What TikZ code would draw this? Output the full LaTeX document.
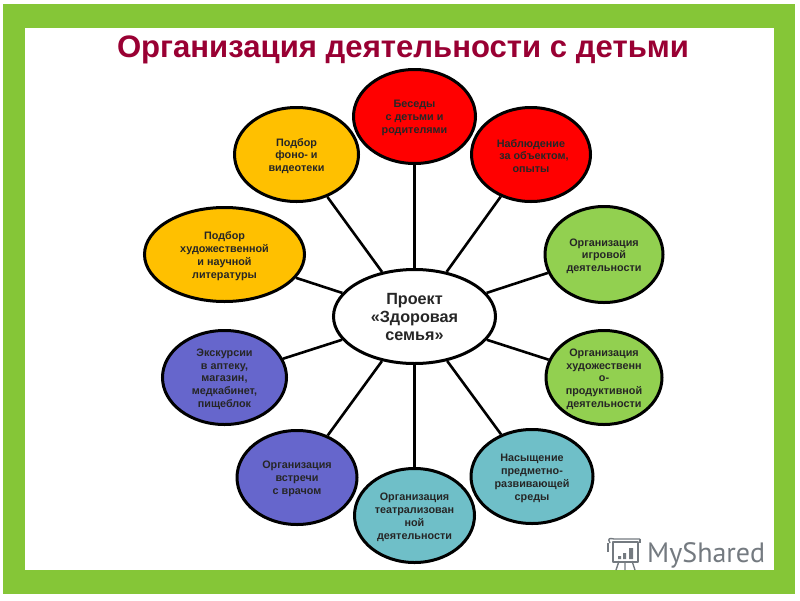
\documentclass[tikz,border=0pt]{standalone}
\usepackage{fontspec}
\setmainfont{Liberation Sans}
\newfontfamily\wmfont{PT Sans}
\usetikzlibrary{shapes.geometric}
\definecolor{frameg}{HTML}{85C637}
\definecolor{titlec}{HTML}{990033}
\definecolor{redc}{HTML}{FF0000}
\definecolor{yelc}{HTML}{FFC000}
\definecolor{grnc}{HTML}{92D050}
\definecolor{purc}{HTML}{6666CC}
\definecolor{tealc}{HTML}{6FBFC8}
\definecolor{wm}{HTML}{747A80}
\newcommand{\pushdown}{\rule{0pt}{11pt}}
\tikzset{
  bub/.style={draw=black,line width=3pt,ellipse,inner sep=0pt,align=center,
    font=\fontsize{10.8}{12.9}\selectfont\bfseries,text=black!85},
  link/.style={draw=black,line width=2.6pt},
}
\begin{document}
\begin{tikzpicture}[x=1pt,y=-1pt]
\useasboundingbox (0,0) rectangle (800,600);
\fill[white] (0,0) rectangle (800,600);
\fill[frameg] (3,4) rectangle (795,594);
\fill[white] (25,28) rectangle (774,570);
\node[font=\fontsize{31.1}{36}\selectfont\bfseries,text=titlec] (title) at (403,50) {Организация деятельности с детьми};

\node[bub,fill=white,minimum width=162pt,minimum height=94pt,font=\fontsize{16.2}{18}\selectfont\bfseries] (c) at (414.5,316.5) {Проект\\«Здоровая\\семья»};
\node[bub,fill=redc,minimum width=122pt,minimum height=94pt] (a1) at (414.5,116.5) {\pushdown Беседы\\с детьми и\\родителями};
\node[bub,fill=redc,minimum width=119pt,minimum height=94pt] (a2) at (531,154.5) {\pushdown Наблюдение\\\hspace{6pt}за объектом,\\опыты};
\node[bub,fill=grnc,minimum width=118pt,minimum height=96pt] (a3) at (604,254.5) {\pushdown Организация\\игровой\\деятельности};
\node[bub,fill=grnc,minimum width=116pt,minimum height=94pt] (a4) at (604,377.5) {\pushdown Организация\\художественн\\о-\\продуктивной\\деятельности};
\node[bub,fill=tealc,minimum width=122pt,minimum height=94pt] (a5) at (532,476.5) {\pushdown Насыщение\\предметно-\\развивающей\\среды};
\node[bub,fill=tealc,minimum width=120pt,minimum height=94pt] (a6) at (414.5,515.5) {\pushdown Организация\\театрализован\\ной\\деятельности};
\node[bub,fill=purc,minimum width=120pt,minimum height=94pt] (a7) at (297,477.5) {\pushdown Организация\\встречи\\с врачом};
\node[bub,fill=purc,minimum width=124pt,minimum height=94pt] (a8) at (224.5,377.5) {\pushdown Экскурсии\\в аптеку,\\магазин,\\медкабинет,\\пищеблок};
\node[bub,fill=yelc,minimum width=160pt,minimum height=94pt] (a9) at (224.5,254.5) {\pushdown Подбор\\художественной\\и научной\\литературы};
\node[bub,fill=yelc,minimum width=124pt,minimum height=94pt] (a10) at (296.5,154.5) {\pushdown Подбор\\фоно- и\\видеотеки};

\foreach \n in {a1,a2,a3,a4,a5,a6,a7,a8,a9,a10} \draw[link] (c) -- (\n);

% watermark
\node[font=\wmfont\fontsize{28}{32}\selectfont,text=wm,anchor=west,inner sep=0pt] (wmtext) at (647,555) {MyShared};
\begin{scope}[draw=wm,line width=1.4pt,line join=round]
\draw (613,542) rectangle (638,562);
\draw (610,543) .. controls (607,538) and (610,538) .. (614,539) -- (640,539);
\draw (608,543) -- (608,552) (640,539) -- (640,543);
\draw (619,561) -- (616,570) (625,562) -- (625,570) (632,561) -- (635,570);
\fill[wm] (618,556) rectangle (621,559) (623,553) rectangle (626,559) (629,548) rectangle (633,559);
\end{scope}
\end{tikzpicture}
\end{document}
